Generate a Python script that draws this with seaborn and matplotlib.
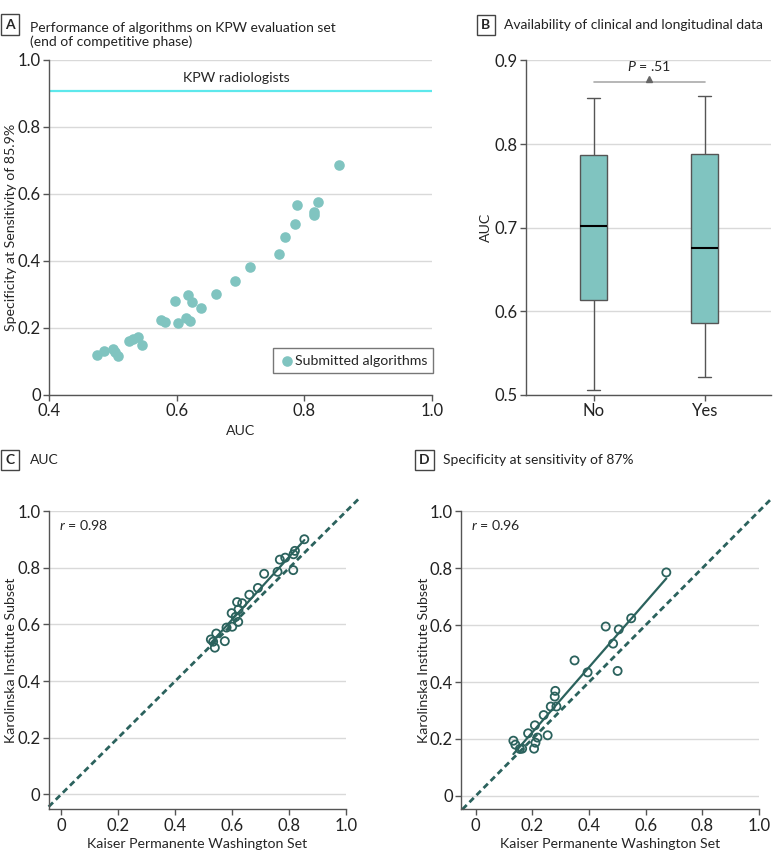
import numpy as np
import pandas as pd
import seaborn as sns
import matplotlib
matplotlib.use("Agg")
import matplotlib.pyplot as plt

# A: submitted algorithms on KPW evaluation set
a_auc = [0.475, 0.486, 0.500, 0.504, 0.508, 0.526, 0.532, 0.539, 0.546, 0.575,
         0.582, 0.597, 0.602, 0.614, 0.618, 0.621, 0.624, 0.638, 0.661, 0.692,
         0.715, 0.761, 0.769, 0.785, 0.789, 0.815, 0.815, 0.821, 0.855]
a_spec = [0.118, 0.130, 0.137, 0.127, 0.115, 0.161, 0.167, 0.172, 0.148, 0.223,
          0.217, 0.279, 0.215, 0.230, 0.297, 0.220, 0.278, 0.259, 0.300, 0.341,
          0.380, 0.419, 0.470, 0.510, 0.565, 0.535, 0.546, 0.574, 0.686]
radiologist_spec = 0.905

# B: box summary (min, q1, median, q3, max)
b_groups = ["No", "Yes"]
b_no = [0.506, 0.613, 0.702, 0.787, 0.855]
b_yes = [0.521, 0.586, 0.676, 0.788, 0.858]
p_text = ".51"

# C: AUC, KPW vs Karolinska
c_kpw = [0.853, 0.820, 0.815, 0.786, 0.767, 0.814, 0.759, 0.712, 0.690, 0.660,
         0.635, 0.617, 0.622, 0.598, 0.612, 0.621, 0.600, 0.580, 0.574, 0.544,
         0.525, 0.533, 0.539]
c_ki = [0.901, 0.860, 0.848, 0.836, 0.829, 0.792, 0.786, 0.779, 0.729, 0.705,
        0.675, 0.679, 0.653, 0.640, 0.627, 0.609, 0.592, 0.589, 0.541, 0.568,
        0.547, 0.539, 0.518]
c_r = "0.98"

# D: specificity at sensitivity of 87%
d_kpw = [0.673, 0.549, 0.459, 0.505, 0.485, 0.349, 0.395, 0.501, 0.281, 0.279,
         0.265, 0.285, 0.240, 0.209, 0.185, 0.254, 0.218, 0.211, 0.206, 0.133,
         0.140, 0.156, 0.164]
d_ki = [0.785, 0.624, 0.595, 0.585, 0.535, 0.476, 0.434, 0.439, 0.369, 0.349,
        0.314, 0.314, 0.284, 0.248, 0.220, 0.213, 0.205, 0.187, 0.166, 0.194,
        0.180, 0.165, 0.166]
d_r = "0.96"

sns.set_style("white")
plt.rcParams['font.family'] = ['Lato', 'DejaVu Sans']
plt.rcParams['mathtext.fontset'] = 'custom'
plt.rcParams['mathtext.it'] = 'Lato:italic'
plt.rcParams['mathtext.rm'] = 'Lato'

LIGHT = "#80c4c0"
DARK = "#2b625d"
GRID = "#d9d9d9"
SPINE = "#555555"
FS = 10.2      # labels
TTL = 10.0     # panel titles
TFS = 12       # tick labels

fig = plt.figure(figsize=(7.8, 8.64), dpi=100)
axA = fig.add_axes([0.0628, 0.543, 0.491, 0.388])
axB = fig.add_axes([0.674, 0.543, 0.315, 0.387])
axC = fig.add_axes([0.0624, 0.0633, 0.3815, 0.345])
axD = fig.add_axes([0.591, 0.0633, 0.382, 0.345])


def style(ax):
    sns.despine(ax=ax)
    for s in ["left", "bottom"]:
        ax.spines[s].set_color(SPINE)
        ax.spines[s].set_linewidth(1)
    ax.yaxis.grid(True, color=GRID, linewidth=1)
    ax.set_axisbelow(True)
    ax.tick_params(axis="both", which="major", length=4, width=1, color=SPINE,
                   labelsize=TFS, labelcolor="#222222", direction="out",
                   left=True, bottom=True, pad=2)


def panel_label(letter, x, y, title, tx=None, ty=None):
    fig.text(x, y, letter, fontsize=10, fontweight="bold", ha="left", va="center",
             bbox=dict(boxstyle="square,pad=0.3", fc="white", ec="#444444", lw=1))
    fig.text(x + 0.032 if tx is None else tx, y if ty is None else ty, title,
             fontsize=TTL, ha="left", va="center", color="#222222", linespacing=1.15)


# ---- A
style(axA)
sns.scatterplot(x=a_auc, y=a_spec, ax=axA, color=LIGHT, s=58, linewidth=0,
                label="Submitted algorithms", zorder=3)
axA.axhline(radiologist_spec, color="#5de8ec", linewidth=1.6)
axA.text(0.694, 0.945, "KPW radiologists", ha="center", va="center", fontsize=FS)
axA.set_xlim(0.4, 1.0)
axA.set_ylim(0, 1.0)
axA.set_xticks([0.4, 0.6, 0.8, 1.0])
axA.set_xticklabels(["0.4", "0.6", "0.8", "1.0"])
axA.set_yticks([0, 0.2, 0.4, 0.6, 0.8, 1.0])
axA.set_yticklabels(["0", "0.2", "0.4", "0.6", "0.8", "1.0"])
axA.set_xlabel("AUC", fontsize=FS)
axA.set_ylabel("Specificity at Sensitivity of 85.9%", fontsize=FS)
axA.xaxis.set_label_coords(0.5, -0.09)
axA.yaxis.set_label_coords(-0.083, 0.5)
leg = axA.legend(loc="lower right", bbox_to_anchor=(1.004, 0.065), frameon=True,
                 fancybox=False, edgecolor="#555555", fontsize=FS, handletextpad=0.05,
                 borderpad=0.45, borderaxespad=0, handlelength=1.0)
leg.get_frame().set_linewidth(1)

# ---- B
style(axB)
box_df = pd.DataFrame({"group": [b_groups[0]] * len(b_no) + [b_groups[1]] * len(b_yes),
                       "auc": b_no + b_yes})
sns.boxplot(data=box_df, x="group", y="auc", ax=axB, width=0.24, color=LIGHT,
            saturation=1, linecolor="#555555", linewidth=1, whis=(0, 100),
            medianprops=dict(color="black", linewidth=1.5))
axB.set_xlim(-0.61, 1.6)
axB.set_ylim(0.5, 0.9)
axB.set_yticks([0.5, 0.6, 0.7, 0.8, 0.9])
axB.set_yticklabels(["0.5", "0.6", "0.7", "0.8", "0.9"])
axB.set_xlabel("")
axB.set_ylabel("AUC", fontsize=FS)
axB.yaxis.set_label_coords(-0.138, 0.5)
axB.plot([0, 1], [0.874, 0.874], color="#aaaaaa", linewidth=1.2)
axB.plot([0.5], [0.8775], marker="^", color="#666666", markersize=5, linestyle="none")
axB.text(0.5, 0.893, "$P$ = " + p_text, ha="center", va="center", fontsize=FS)


# ---- C, D
def corr_panel(ax, xs, ys, r, xmin, ymin, ylab_x):
    style(ax)
    ax.plot([max(xmin, ymin), 1.045], [max(xmin, ymin), 1.045], color=DARK,
            linestyle=(0, (2.2, 1.4)), linewidth=2, clip_on=False, zorder=2)
    sns.regplot(x=xs, y=ys, ax=ax, scatter=False, ci=None, truncate=True,
                line_kws=dict(color=DARK, linewidth=1.6, zorder=3))
    sns.scatterplot(x=xs, y=ys, ax=ax, marker="o", s=34, facecolor="none",
                    edgecolor=DARK, linewidth=1.3, zorder=4)
    ax.set_xlim(xmin, 1.0)
    ax.set_ylim(ymin, 1.0)
    ticks = [0, 0.2, 0.4, 0.6, 0.8, 1.0]
    labels = ["0", "0.2", "0.4", "0.6", "0.8", "1.0"]
    ax.set_xticks(ticks)
    ax.set_xticklabels(labels)
    ax.set_yticks(ticks)
    ax.set_yticklabels(labels)
    ax.set_xlabel("Kaiser Permanente Washington Set", fontsize=FS)
    ax.set_ylabel("Karolinska Institute Subset", fontsize=FS)
    ax.xaxis.set_label_coords(0.5, -0.097)
    ax.yaxis.set_label_coords(ylab_x, 0.5)
    ax.text(xmin + 0.035, 0.95, "$r$ = " + r, ha="left", va="center", fontsize=FS)


corr_panel(axC, c_kpw, c_ki, c_r, -0.044, -0.053, -0.106)
corr_panel(axD, d_kpw, d_ki, d_r, -0.052, -0.047, -0.104)

panel_label("A", 0.007, 0.9715, "Performance of algorithms on KPW evaluation set\n(end of competitive phase)",
            tx=0.038, ty=0.9595)
panel_label("B", 0.617, 0.971, "Availability of clinical and longitudinal data", tx=0.646)
panel_label("C", 0.007, 0.4675, "AUC", tx=0.038)
panel_label("D", 0.537, 0.4675, "Specificity at sensitivity of 87%", tx=0.568)

fig.savefig("out.png", dpi=100)
